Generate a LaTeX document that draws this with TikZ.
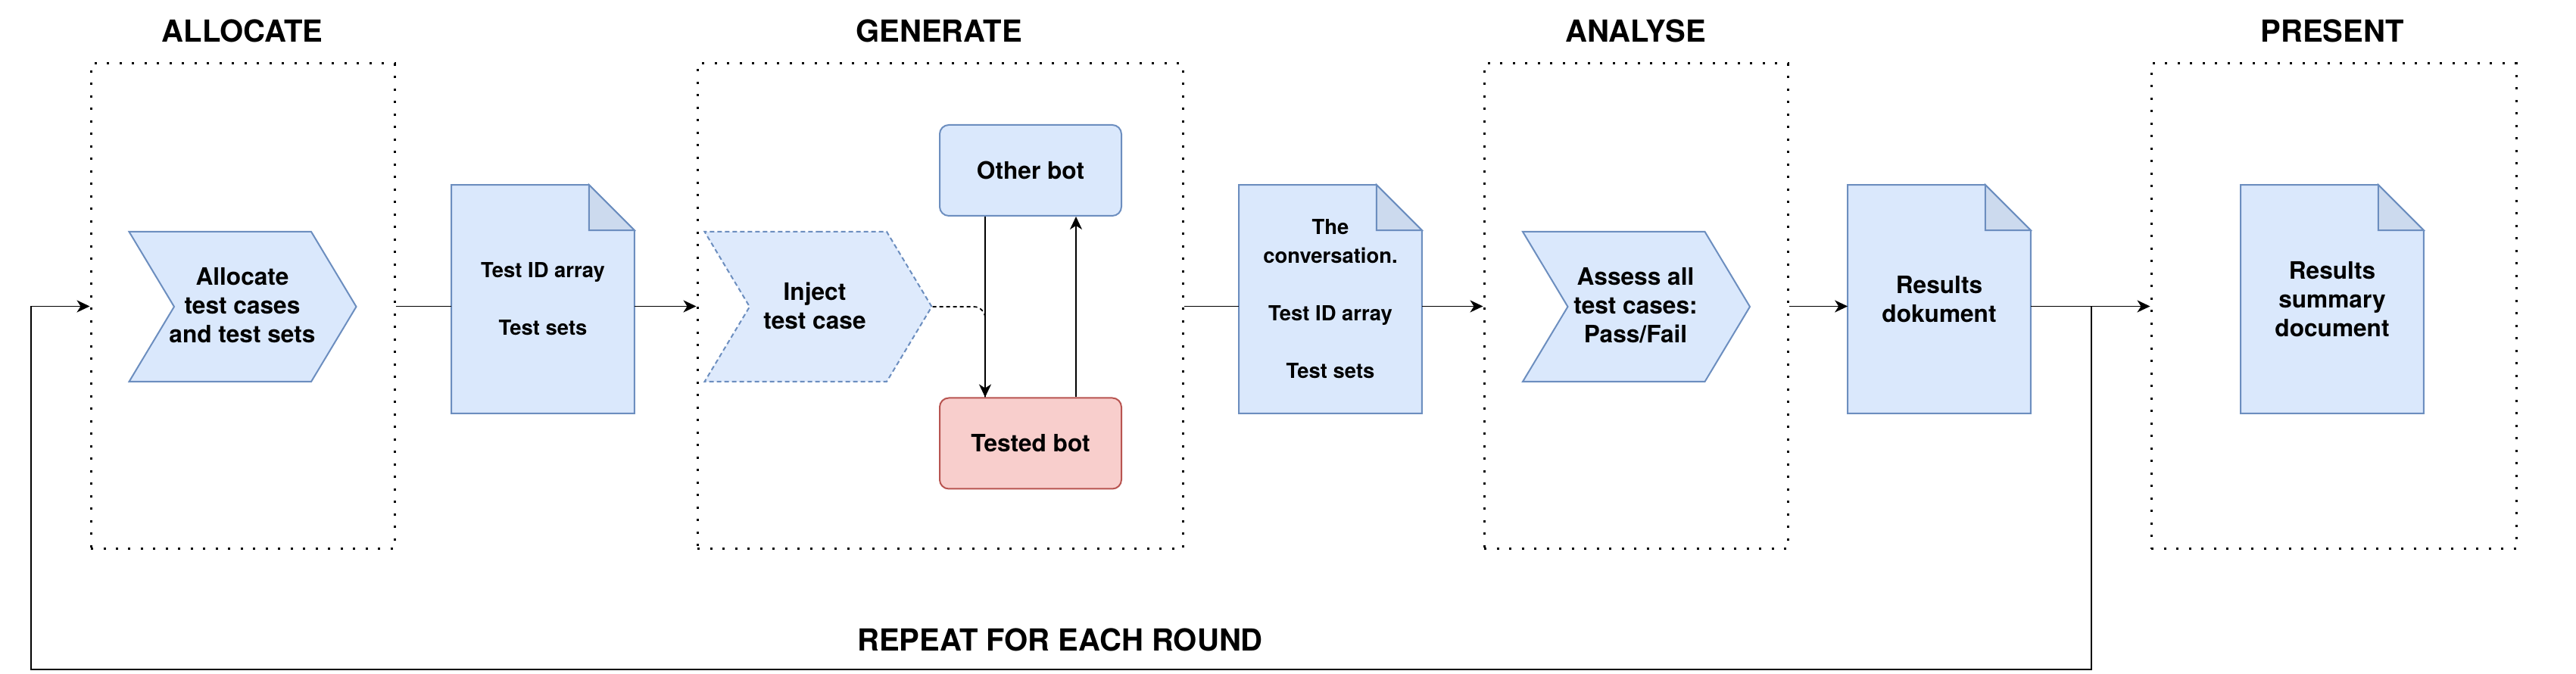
\documentclass[tikz,border=0pt]{standalone}
\usepackage{fontspec}
\setmainfont{TeX Gyre Heros}
\usetikzlibrary{shapes.symbols}
\usetikzlibrary{arrows.meta}
\usetikzlibrary{backgrounds}

\definecolor{boxblue}{HTML}{DAE8FC}
\definecolor{lineblue}{HTML}{6C8EBF}
\definecolor{foldblue}{HTML}{CCDAEE}
\definecolor{boxred}{HTML}{F8CECC}
\definecolor{linered}{HTML}{B85450}

% document with a folded corner: name, position, font size, text
\newcommand{\docnode}[4]{
\node[doc, font=\bfseries\fontsize{#3}{10.8}\selectfont] (#1) at (#2) {#4};
\begin{scope}[on background layer]
\draw[docline, fill=boxblue] (#1.north west) -- ([xshift=-0.6cm]#1.north east) -- ([yshift=-0.6cm]#1.north east) -- (#1.south east) -- (#1.south west) -- cycle;
\draw[docline, fill=foldblue] ([xshift=-0.6cm]#1.north east) -- ([xshift=-0.6cm,yshift=-0.6cm]#1.north east) -- ([yshift=-0.6cm]#1.north east) -- cycle;
\end{scope}
}

\begin{document}
\begin{tikzpicture}[
		>={Stealth[length=1.7mm,width=1.6mm,inset=0.5mm]},
		line width=0.017cm,
		stage/.style={draw=black, line width=0.03cm, dash pattern=on 0.03cm off 0.135cm, minimum height=6.41cm},
		title/.style={font=\bfseries\fontsize{11.4}{13.5}\selectfont},
		chevron/.style={shape=signal, signal to=east, signal from=west, signal pointer angle=118, fill=boxblue, draw=lineblue, line width=0.02cm, minimum width=3cm, minimum height=1.98cm, inner sep=0pt},
		steptext/.style={align=center, inner sep=0pt, font=\bfseries\fontsize{9}{10.8}\selectfont},
		bot/.style={shape=rectangle, rounded corners=0.12cm, line width=0.02cm, minimum width=2.4cm, minimum height=1.2cm, font=\bfseries\fontsize{9}{10.8}\selectfont},
		doc/.style={shape=rectangle, minimum width=2.4cm, minimum height=3cm, inner sep=0pt, align=center},
		docline/.style={draw=lineblue, line width=0.02cm},
]
\useasboundingbox (0,0) rectangle (34.02,8.9);

% stages
\node[stage, minimum width=4.01cm] (allocate) at (3.205,4.855) {};
\node[stage, minimum width=6.41cm] (generate) at (12.415,4.855) {};
\node[stage, minimum width=4.01cm] (analyse) at (21.605,4.855) {};
\node[stage, minimum width=4.82cm] (present) at (30.82,4.855) {};

\node[title] (t-allocate) at (3.2,8.49) {ALLOCATE};
\node[title] (t-generate) at (12.4,8.49) {GENERATE};
\node[title] (t-analyse) at (21.6,8.49) {ANALYSE};
\node[title] (t-present) at (30.8,8.49) {PRESENT};

% steps
\node[chevron] (alloc) at (3.205,4.85) {};
\node[steptext] (alloc-text) at (3.2,4.87) {Allocate\\test cases\\and test sets};
\node[chevron, fill=boxblue!90!white, dash pattern=on 0.06cm off 0.04cm] (inject) at (10.805,4.85) {};
\node[steptext] (inject-text) at (10.76,4.86) {Inject\\test case};
\node[chevron] (assess) at (21.61,4.85) {};
\node[steptext] (assess-text) at (21.6,4.87) {Assess all\\test cases:\\Pass/Fail};

\node[bot, fill=boxblue, draw=lineblue] (other) at (13.61,6.65) {Other bot};
\node[bot, fill=boxred, draw=linered] (tested) at (13.61,3.045) {Tested bot};

% documents
\docnode{ids}{7.17,4.95}{7.8}{Test ID array\\[10.8pt]Test sets}
\docnode{conv}{17.57,4.95}{7.8}{The\\conversation.\\[10.8pt]Test ID array\\[10.8pt]Test sets}
\docnode{results}{25.61,4.95}{9}{Results\\dokument}
\docnode{summary}{30.80,4.95}{9}{Results\\summary\\document}

% flow
\draw (allocate.east) -- (allocate.east -| ids.west);
\draw [->] (ids.east |- allocate.east) -- (generate.west);
\draw (generate.east) -- (generate.east -| conv.west);
\draw [->] (conv.east |- generate.east) -- (analyse.west);
\draw [->] (analyse.east) -- (analyse.east -| results.west);
\draw [->] (results.east |- analyse.east) -- (present.west);

\draw [dash pattern=on 0.05cm off 0.04cm, rounded corners=0.15cm] (inject.east) -| ([xshift=-0.6cm]tested.north);
\draw [->] ([xshift=-0.6cm]other.south) -- ([xshift=-0.6cm]tested.north);
\draw [->] ([xshift=0.6cm]tested.north) -- ([xshift=0.6cm]other.south);

% repeat loop
\coordinate (split) at (27.62,4.855);
\coordinate (loopcorner) at (0.41,0.06);
\draw [->] (split) |- (loopcorner) |- (allocate.west);
\node[title] (repeat) at (14.0,0.45) {REPEAT FOR EACH ROUND};

\end{tikzpicture}
\end{document}
